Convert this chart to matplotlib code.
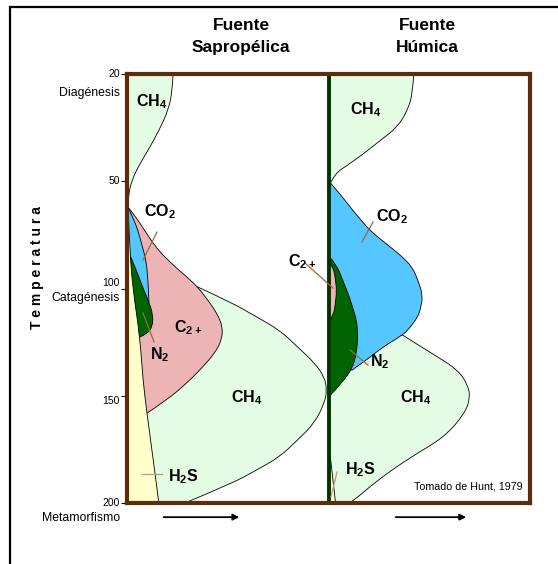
import numpy as np
import matplotlib
matplotlib.use('Agg')
import matplotlib.pyplot as plt
from matplotlib.patches import Rectangle, PathPatch
from matplotlib.path import Path

plt.rcParams['font.family'] = ['Liberation Sans', 'DejaVu Sans']
plt.rcParams['mathtext.fontset'] = 'custom'
plt.rcParams['mathtext.rm'] = 'Liberation Sans:bold'
plt.rcParams['mathtext.default'] = 'rm'

# temperature axis: ticks are evenly spaced although the values are not
TEMPS = [20, 50, 100, 150, 200]
TEMP_LABELS = ['20', '50', '100', '150', '200']
TEMP_VA = ['center', 'center', 'bottom', 'top', 'center']
STAGES = [('Diagénesis', 25.3, 0), ('Catagénesis', 104.4, 0), ('Metamorfismo', 200, -11)]

# boundaries: (relative amount inside panel, temperature)
# each shape is closed along the left edge of its panel
# --- Fuente Sapropélica (left panel)
L_CH4_TOP = [(0.228, 20), (0.226, 24.5), (0.205, 30.1), (0.160, 35.7), (0.105, 41.3),
             (0.055, 46.0), (0.025, 49.7), (0.008, 55.5), (0.003, 62.0)]
L_CH4_LOW = [(0.351, 99.3), (0.525, 106.8), (0.634, 112.8), (0.757, 119.3), (0.847, 127.3),
             (0.931, 134.7), (0.980, 141.3), (0.992, 147.3), (0.980, 153.4), (0.931, 162.7),
             (0.847, 170.6), (0.757, 178.6), (0.634, 185.1), (0.525, 190.7), (0.287, 200)]
L_C2 = [(0.005, 62.0), (0.035, 65.7), (0.064, 69.5), (0.099, 74.6), (0.129, 78.8), (0.168, 83.4),
        (0.213, 87.6), (0.257, 91.4), (0.297, 94.6), (0.351, 99.3), (0.401, 105.4), (0.446, 111.4),
        (0.475, 117.9), (0.470, 124.0), (0.436, 130.1), (0.376, 136.6), (0.297, 144.1),
        (0.198, 152.0), (0.099, 158.1)]
L_CO2 = [(0.005, 62.0), (0.030, 67.1), (0.054, 72.7), (0.074, 79.7), (0.094, 86.7), (0.104, 95.1),
         (0.109, 106.3)]
L_N2 = [(0.015, 84.4), (0.050, 92.3), (0.079, 99.8), (0.109, 106.3), (0.129, 112.4), (0.126, 117.9),
        (0.099, 121.2), (0.064, 122.6)]
L_H2S = [(0.005, 62.0), (0.015, 84.4), (0.030, 100.7), (0.064, 122.6), (0.079, 142.7),
         (0.099, 158.1), (0.139, 186.0), (0.158, 200)]

# --- Fuente Húmica (right panel)
R_CH4_TOP = [(0.423, 20), (0.418, 25.3), (0.393, 30.1), (0.343, 34.8), (0.259, 38.5),
             (0.179, 42.1), (0.095, 45.5), (0.035, 47.7), (0.010, 50.8)]
R_CH4_LOW = [(0.368, 121.7), (0.453, 126.8), (0.542, 131.9), (0.642, 138.0), (0.692, 145.0),
             (0.703, 151.0), (0.677, 158.1), (0.577, 169.2), (0.408, 178.6), (0.244, 189.3),
             (0.129, 198.6), (0.104, 200)]
R_CO2 = [(0.010, 50.8), (0.070, 57.4), (0.119, 63.4), (0.169, 69.0), (0.214, 73.7), (0.294, 79.7),
         (0.368, 85.3), (0.418, 90.4), (0.443, 96.0), (0.468, 103.0), (0.458, 109.1), (0.443, 113.3),
         (0.403, 118.4), (0.368, 121.7), (0.269, 127.3), (0.189, 133.3), (0.129, 137.1),
         (0.119, 138.0)]
R_N2 = [(0.010, 85.8), (0.040, 89.0), (0.070, 96.0), (0.100, 103.0), (0.119, 108.6), (0.139, 114.7),
        (0.146, 121.7), (0.139, 130.1), (0.119, 137.1), (0.070, 143.6), (0.010, 149.7)]
R_C2 = [(0, 86.7), (0.025, 90.4), (0.035, 96.0), (0.040, 100.7), (0.035, 106.8), (0.025, 112.4),
        (0, 116.1)]
R_H2S = [(0.005, 175.0), (0.035, 200)]

CH4_C, CO2_C, C2_C, N2_C, H2S_C = '#e4fbe4', '#55c6ff', '#ecb4b4', '#006400', '#ffffcc'

# labels: text, (x, T), leader line or None  (x: 0-1 left panel, 1-2 right panel)
LABELS = [
    (r'CH$_4$', (0.124, 27.8), None),
    (r'CO$_2$', (0.164, 64.3), [(0.149, 73.7), (0.079, 86.7)]),
    (r'C$_{2+}$', (0.303, 118.4), None),
    (r'N$_2$', (0.164, 131.0), [(0.079, 111.4), (0.134, 124.9)]),
    (r'CH$_4$', (0.596, 151.0), None),
    (r'H$_2$S', (0.278, 187.9), [(0.074, 186.5), (0.174, 186.5)]),
    (r'CH$_4$', (1.186, 30.1), None),
    (r'CO$_2$', (1.315, 66.7), [(1.221, 69.0), (1.166, 78.3)]),
    (r'C$_{2+}$', (0.868, 87.6), [(0.883, 88.1), (1.022, 99.8)]),
    (r'N$_2$', (1.256, 134.3), [(1.107, 128.7), (1.196, 135.7)]),
    (r'CH$_4$', (1.434, 151.0), None),
    (r'H$_2$S', (1.156, 184.6), [(1.012, 197.2), (1.042, 185.6)]),
]
ARROWS = [(0.168, 0.571), (1.32, 1.697)]


def fwd(v):
    v = np.asarray(v, dtype=float)
    out = np.interp(v, TEMPS, [0, 1, 2, 3, 4])
    out = np.where(v > 200, 4 + (v - 200) / 50, out)
    return np.where(v < 20, (v - 20) / 30, out)


def inv(p):
    p = np.asarray(p, dtype=float)
    out = np.interp(p, [0, 1, 2, 3, 4], TEMPS)
    out = np.where(p > 4, 200 + (p - 4) * 50, out)
    return np.where(p < 0, 20 + p * 30, out)


def draw(ax, curve, dx, color, z):
    # smooth boundary (quadratic beziers through midpoints), closed along panel edge
    pts = [(x + dx, t) for x, t in curve]
    verts, codes = [pts[0]], [Path.MOVETO]
    n = len(pts)
    for i in range(1, n - 1):
        end = pts[i + 1] if i == n - 2 else ((pts[i][0] + pts[i + 1][0]) / 2,
                                              (pts[i][1] + pts[i + 1][1]) / 2)
        verts += [pts[i], end]
        codes += [Path.CURVE3, Path.CURVE3]
    if n == 2:
        verts.append(pts[1])
        codes.append(Path.LINETO)
    for c in [(dx, curve[-1][1]), (dx, curve[0][1]), pts[0]]:
        verts.append(c)
        codes.append(Path.LINETO)
    verts.append(pts[0])
    codes.append(Path.CLOSEPOLY)
    ax.add_patch(PathPatch(Path(verts, codes), facecolor=color, edgecolor='black',
                           linewidth=0.6, zorder=z))


fig = plt.figure(figsize=(5.58, 5.64), dpi=100)
ax = fig.add_axes([127 / 558, 61 / 564, 403 / 558, 429 / 564])
ax.set_yscale('function', functions=(fwd, inv))
ax.set_xlim(0, 2)
ax.set_ylim(200, 20)

for i, (pts, col) in enumerate([(L_CH4_TOP, CH4_C), (L_CH4_LOW, CH4_C), (L_C2, C2_C),
                                (L_CO2, CO2_C), (L_N2, N2_C), (L_H2S, H2S_C)]):
    draw(ax, pts, 0, col, 2 + i)
for i, (pts, col) in enumerate([(R_CH4_TOP, CH4_C), (R_CH4_LOW, CH4_C), (R_CO2, CO2_C),
                                (R_N2, N2_C), (R_C2, C2_C), (R_H2S, H2S_C)]):
    draw(ax, pts, 1, col, 2 + i)
ax.axvline(1.0, color='#003300', lw=2.8, zorder=10)

for txt, (x, t), lead in LABELS:
    ax.text(x, t, txt, ha='center', va='center', fontsize=11.5, weight='bold', zorder=12)
    if lead:
        ax.plot([lead[0][0], lead[1][0]], [lead[0][1], lead[1][1]],
                color='#b89c7c' if txt.startswith('H') else '#9a6a3a', lw=0.9, zorder=11)

ax.text(1.965, 192.1, 'Tomado de Hunt, 1979', ha='right', va='center', fontsize=7.7, zorder=12)

# axis styling
for s in ax.spines.values():
    s.set_color('#5a2e0a')
    s.set_linewidth(3)
    s.set_zorder(15)
ax.set_xticks([])
ax.set_yticks(TEMPS)
ax.set_yticklabels(TEMP_LABELS, fontsize=7.5)
for lab, va in zip(ax.get_yticklabels(), TEMP_VA):
    lab.set_va(va)
ax.tick_params(axis='y', length=4.5, width=0.8, pad=0.5, color='black')

for name, t, dy in STAGES:
    ax.annotate(name, xy=(0, t), xycoords=('axes fraction', 'data'), xytext=(-5, dy),
                textcoords='offset points', ha='right', va='center', fontsize=8.8,
                annotation_clip=False)

for x1, x2 in ARROWS:
    ax.annotate('', xy=(x2, -0.033), xytext=(x1, -0.033), xycoords=('data', 'axes fraction'),
                arrowprops=dict(arrowstyle='-|>', color='black', lw=1.3, mutation_scale=9),
                annotation_clip=False)

fig.text(241 / 558, 1 - 36.5 / 564, 'Fuente\nSapropélica', ha='center', va='center',
         fontsize=12.5, weight='bold', linespacing=1.65)
fig.text(427 / 558, 1 - 36.5 / 564, 'Fuente\nHúmica', ha='center', va='center',
         fontsize=12.5, weight='bold', linespacing=1.65)
fig.text(37 / 558, 1 - 268 / 564, 'T e m p e r a t u r a', rotation=90, ha='center', va='center',
         fontsize=10, weight='bold')

fig.add_artist(Rectangle((10 / 558, -0.1), 1.5, 1.1 - 7 / 564, transform=fig.transFigure,
                         fill=False, lw=1.6, edgecolor='black'))

fig.savefig('out.png', dpi=100)
